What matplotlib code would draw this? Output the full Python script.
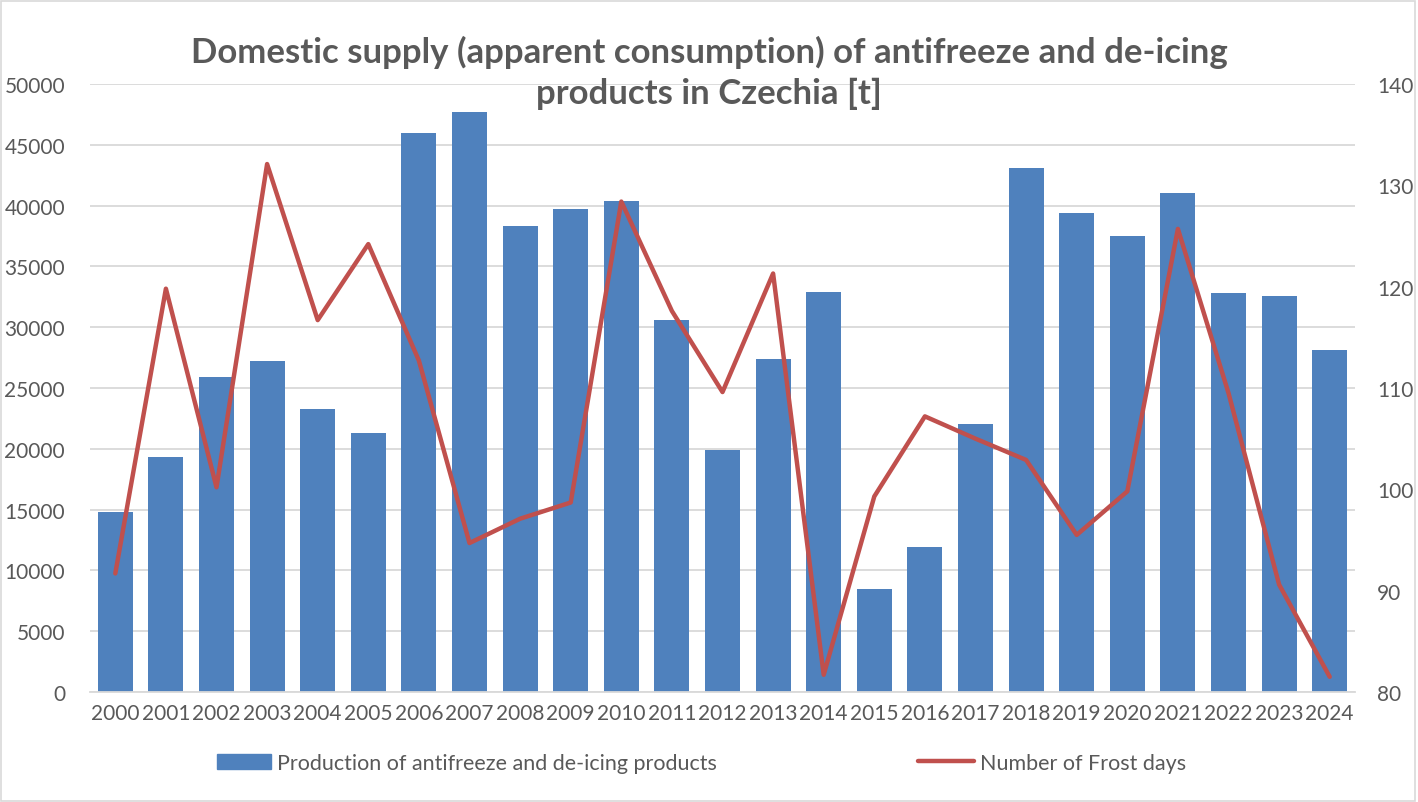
import matplotlib
matplotlib.use("Agg")
import matplotlib.pyplot as plt
from matplotlib.patches import Rectangle
from matplotlib.lines import Line2D
from matplotlib.patches import Patch

plt.rcParams['font.family'] = ['Lato', 'DejaVu Sans']

years = [str(y) for y in range(2000, 2025)]
production = [14800, 19300, 25900, 27200, 23300, 21300, 46000, 47700, 38300, 39700,
              40400, 30600, 19900, 27400, 32900, 8500, 11900, 22000, 43100, 39400,
              37500, 41000, 32800, 32600, 28100]
frost_days = [91.7, 119.8, 100.2, 132.1, 116.7, 124.2, 112.7, 94.7, 97.1, 98.7,
              128.4, 117.6, 109.6, 121.3, 81.7, 99.3, 107.2, 105.0, 102.9, 95.5,
              99.8, 125.7, 109.5, 90.6, 81.5]
left_ticks = list(range(0, 50001, 5000))
right_ticks = list(range(80, 141, 10))
title = "Domestic supply (apparent consumption) of antifreeze and de-icing\nproducts in Czechia [t]"
bar_label = "Production of antifreeze and de-icing products"
line_label = "Number of Frost days"

txt = '#595959'
bar_c = '#4F81BD'
line_c = '#C0504D'
fs = 15.0
lfs = 15.5

fig = plt.figure(figsize=(14.18, 8.03), dpi=100)
ax = fig.add_axes([90/1418, (803-693)/803, (1355-90)/1418, (693-85)/803])
x = list(range(len(years)))
ax.bar(x, production, width=0.69, color=bar_c, zorder=2)
ax.set_xlim(-0.5, len(years)-0.5)
ax.set_ylim(0, 50000)
ax.set_yticks(left_ticks)
ax.set_yticklabels([str(v) for v in left_ticks])
ax.set_xticks(x)
ax.set_xticklabels(years)
ax.grid(axis='y', color='#D9D9D9', linewidth=1.3, zorder=0)
ax.set_axisbelow(True)
for s in ['top', 'left', 'right']:
    ax.spines[s].set_visible(False)
ax.spines['bottom'].set_color('#D9D9D9')
ax.spines['bottom'].set_linewidth(1.3)
ax.tick_params(axis='both', length=0, labelsize=fs, colors=txt)
ax.tick_params(axis='y', pad=18)
ax.tick_params(axis='x', pad=8)

ax2 = ax.twinx()
ax2.plot(x, frost_days, color=line_c, linewidth=3.2, solid_joinstyle='round', solid_capstyle='round', zorder=3)
ax2.set_ylim(80, 140)
ax2.set_yticks(right_ticks)
ax2.set_yticklabels([str(v) for v in right_ticks])
for s in ax2.spines.values():
    s.set_visible(False)
ax2.tick_params(axis='y', length=0, labelsize=fs, colors=txt, pad=16)

fig.text(0.5, 1 - 73/803, title, ha='center', va='center', fontsize=25, fontweight='bold',
         color=txt, linespacing=1.35)

leg1 = fig.legend(handles=[Patch(color=bar_c)], labels=[bar_label], loc='center left',
                  bbox_to_anchor=(198/1418, 1 - 764/803), frameon=False, fontsize=lfs,
                  handlelength=2.5, handleheight=0.7, handletextpad=0.25, labelcolor=txt)
leg2 = fig.legend(handles=[Line2D([0], [0], color=line_c, linewidth=3.2, solid_capstyle='round')],
                  labels=[line_label], loc='center left',
                  bbox_to_anchor=(899/1418, 1 - 764/803), frameon=False, fontsize=lfs,
                  handlelength=2.6, handletextpad=0.25, labelcolor=txt)

fig.patches.append(Rectangle((0.001, 0.001), 0.997, 0.997, transform=fig.transFigure,
                             fill=False, edgecolor='#D9D9D9', linewidth=1.2))

fig.savefig('out.png', dpi=100)
